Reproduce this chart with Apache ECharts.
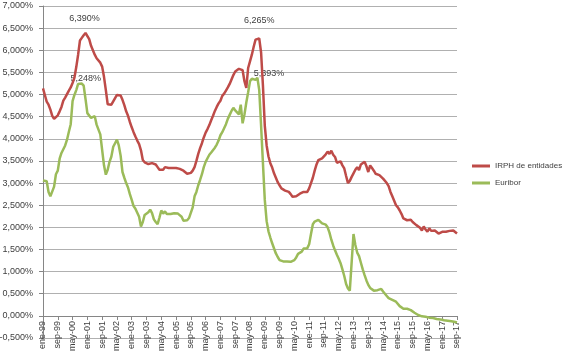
<!DOCTYPE html>
<html>
<head>
<meta charset="utf-8">
<script src="https://cdn.jsdelivr.net/npm/echarts@6/dist/echarts.min.js"></script>
<style>
  html, body { margin: 0; padding: 0; background: #fff; }
  #chart { width: 567px; height: 353px; }
</style>
</head>
<body>
<div id="chart"></div>
<script>
// month names used for the category axis, ene-99 .. sep-17
const monthNames = ["ene", "feb", "mar", "abr", "may", "jun", "jul", "ago", "sep", "oct", "nov", "dic"];
const categories = [];
for (let y = 1999; y <= 2017; y++) {
  for (let m = 0; m < 12; m++) {
    if (y === 2017 && m > 8) break;
    categories.push(monthNames[m] + "-" + String(y).slice(2));
  }
}

// IRPH de entidades, monthly (%)
const irph = [
  5.14, 4.99, 4.84, 4.77, 4.66, 4.52, 4.45, 4.45, 4.53, 4.62, 4.72, 4.86,
  4.93, 5.01, 5.09, 5.16, 5.26, 5.38, 5.62, 5.90, 6.22, 6.28, 6.34, 6.39,
  6.37, 6.25, 6.10, 6.00, 5.90, 5.82, 5.78, 5.72, 5.63, 5.40, 5.10, 4.78,
  4.75, 4.77, 4.80, 4.92, 4.99, 5.01, 4.98, 4.88, 4.76, 4.62, 4.52, 4.38,
  4.26, 4.15, 4.05, 3.96, 3.88, 3.74, 3.52, 3.47, 3.44, 3.43, 3.44, 3.45,
  3.46, 3.42, 3.36, 3.30, 3.26, 3.30, 3.36, 3.38, 3.34, 3.36, 3.34, 3.35,
  3.34, 3.33, 3.32, 3.30, 3.28, 3.24, 3.21, 3.21, 3.23, 3.28, 3.36, 3.50,
  3.66, 3.79, 3.90, 4.03, 4.14, 4.22, 4.31, 4.42, 4.52, 4.63, 4.72, 4.80,
  4.86, 4.97, 5.02, 5.09, 5.16, 5.24, 5.34, 5.44, 5.52, 5.56, 5.58, 5.59,
  5.55, 5.30, 5.15, 5.60, 5.75, 5.90, 6.08, 6.24, 6.25, 6.265, 5.95, 5.20,
  4.30, 3.85, 3.60, 3.45, 3.35, 3.22, 3.12, 3.02, 2.95, 2.88, 2.85, 2.83,
  2.82, 2.80, 2.75, 2.69, 2.68, 2.70, 2.73, 2.76, 2.78, 2.80, 2.78, 2.80,
  2.88, 3.00, 3.12, 3.28, 3.42, 3.52, 3.54, 3.56, 3.60, 3.65, 3.71, 3.66,
  3.73, 3.64, 3.59, 3.46, 3.47, 3.49, 3.40, 3.33, 3.16, 3.00, 3.05, 3.14,
  3.22, 3.30, 3.36, 3.29, 3.42, 3.44, 3.48, 3.38, 3.25, 3.40, 3.34, 3.28,
  3.21, 3.19, 3.18, 3.16, 3.10, 3.07, 3.00, 2.93, 2.80, 2.70, 2.60, 2.50,
  2.45, 2.38, 2.30, 2.20, 2.17, 2.16, 2.15, 2.17, 2.12, 2.10, 2.05, 2.02,
  1.99, 1.93, 2.02, 1.95, 1.90, 1.98, 1.92, 1.88, 1.93, 1.90, 1.86, 1.89,
  1.90, 1.88, 1.90, 1.94, 1.92, 1.90, 1.93, 1.92, 1.86
];

// Euribor, monthly (%)
const euribor = [
  3.06, 3.03, 3.04, 2.80, 2.70, 2.72, 2.92, 3.20, 3.28, 3.55, 3.68, 3.70,
  3.85, 3.98, 4.16, 4.33, 4.85, 4.99, 5.10, 5.24, 5.24, 5.248, 5.20, 4.90,
  4.58, 4.58, 4.47, 4.50, 4.51, 4.32, 4.30, 4.10, 3.75, 3.40, 3.19, 3.30,
  3.48, 3.60, 3.82, 3.90, 3.98, 3.85, 3.62, 3.25, 3.12, 3.00, 2.90, 2.75,
  2.62, 2.48, 2.42, 2.43, 2.24, 2.02, 2.12, 2.28, 2.28, 2.34, 2.40, 2.32,
  2.18, 2.12, 2.07, 2.22, 2.38, 2.31, 2.36, 2.30, 2.32, 2.30, 2.31, 2.32,
  2.31, 2.31, 2.32, 2.24, 2.15, 2.11, 2.16, 2.21, 2.23, 2.45, 2.70, 2.80,
  2.95, 3.07, 3.20, 3.36, 3.48, 3.56, 3.64, 3.69, 3.73, 3.80, 3.87, 3.96,
  4.08, 4.15, 4.24, 4.33, 4.45, 4.54, 4.63, 4.70, 4.64, 4.61, 4.55, 4.77,
  4.35, 4.55, 4.82, 5.05, 5.30, 5.36, 5.393, 5.33, 5.38, 5.10, 4.30, 3.45,
  2.62, 2.14, 1.91, 1.77, 1.64, 1.61, 1.41, 1.33, 1.26, 1.24, 1.23, 1.24,
  1.23, 1.23, 1.22, 1.23, 1.26, 1.32, 1.40, 1.44, 1.45, 1.52, 1.55, 1.53,
  1.62, 1.85, 2.07, 2.13, 2.15, 2.17, 2.18, 2.09, 2.10, 2.06, 2.00, 1.88,
  1.72, 1.59, 1.48, 1.38, 1.29, 1.19, 1.05, 0.90, 0.72, 0.62, 0.57, 0.55,
  1.85, 1.60, 1.43, 1.35, 1.20, 1.05, 0.92, 0.80, 0.70, 0.63, 0.59, 0.57,
  0.57, 0.58, 0.60, 0.61, 0.55, 0.50, 0.45, 0.40, 0.37, 0.36, 0.34, 0.32,
  0.28, 0.22, 0.18, 0.16, 0.16, 0.16, 0.15, 0.13, 0.11, 0.07, 0.04, 0.02,
  0.00, -0.01, -0.01, -0.02, -0.03, -0.04, -0.05, -0.05, -0.06, -0.07, -0.08, -0.08,
  -0.09, -0.10, -0.11, -0.11, -0.12, -0.12, -0.13, -0.14, -0.15
];

// months whose value is written on the chart
const irphLabelled = [23, 117];
const euriborLabelled = [21, 114];

const fmtPct = (v) => v.toFixed(3).replace(".", ",") + "%";
const textColor = "#404040";
const font = "Liberation Sans";

const labelStyles = {
  irph23: { position: "top", distance: 10, offset: [-1, 0] },
  irph117: { position: "top", distance: 14, offset: [0, 0] },
  eur21: { position: "top", distance: 1, offset: [4, 0] },
  eur114: { position: "right", distance: 0, offset: [0, -4] },
};

function withLabels(values, labelled, key) {
  return values.map((v, i) => {
    if (!labelled.includes(i)) return v;
    const s = labelStyles[key + i];
    return {
      value: v,
      label: {
        show: true,
        position: s.position,
        distance: s.distance,
        offset: s.offset,
        formatter: (p) => fmtPct(p.value),
        color: textColor,
        fontFamily: font,
        fontSize: 9,
      },
    };
  });
}

const chart = echarts.init(document.getElementById("chart"), null, { renderer: "canvas" });

chart.setOption({
  animation: false,
  backgroundColor: "#ffffff",
  textStyle: { fontFamily: font, color: textColor },
  grid: { left: 43, right: 110, top: 6, bottom: 15, containLabel: false, outerBoundsMode: "none" },
  legend: {
    data: ["IRPH de entidades", "Euribor"],
    orient: "vertical",
    left: 472,
    top: 162,
    padding: 0,
    itemWidth: 18,
    itemHeight: 3,
    itemGap: 9,
    icon: "rect",
    textStyle: { fontFamily: font, fontSize: 8, color: textColor },
  },
  xAxis: {
    type: "category",
    data: categories,
    boundaryGap: false,
    position: "bottom",
    // the category axis sits on the 0% line, one step above the bottom of the grid
    offset: -22,
    axisLine: { onZero: false, lineStyle: { color: "#868686", width: 1 } },
    axisTick: { show: true, interval: 7, length: 4, lineStyle: { color: "#868686" } },
    axisLabel: {
      interval: 7,
      rotate: 90,
      margin: 5,
      fontSize: 9,
      fontFamily: font,
      color: textColor,
    },
    splitLine: { show: false },
  },
  yAxis: {
    type: "value",
    min: -0.5,
    max: 7,
    interval: 0.5,
    axisLine: { show: true, lineStyle: { color: "#868686", width: 1 } },
    axisTick: { show: true, length: 4, lineStyle: { color: "#868686" } },
    axisLabel: {
      formatter: (v) => fmtPct(v),
      margin: 10,
      fontSize: 9,
      fontFamily: font,
      color: textColor,
    },
    splitLine: { show: true, lineStyle: { color: "#b0b0b0", width: 1 } },
  },
  series: [
    {
      name: "IRPH de entidades",
      type: "line",
      data: withLabels(irph, irphLabelled, "irph"),
      showSymbol: true,
      showAllSymbol: true,
      symbolSize: 0,
      color: "#be4b48",
      lineStyle: { width: 2.5, color: "#be4b48" },
      z: 3,
    },
    {
      name: "Euribor",
      type: "line",
      data: withLabels(euribor, euriborLabelled, "eur"),
      showSymbol: true,
      showAllSymbol: true,
      symbolSize: 0,
      color: "#9bbb59",
      lineStyle: { width: 2.5, color: "#9bbb59" },
      z: 2,
    },
  ],
});
</script>
</body>
</html>
